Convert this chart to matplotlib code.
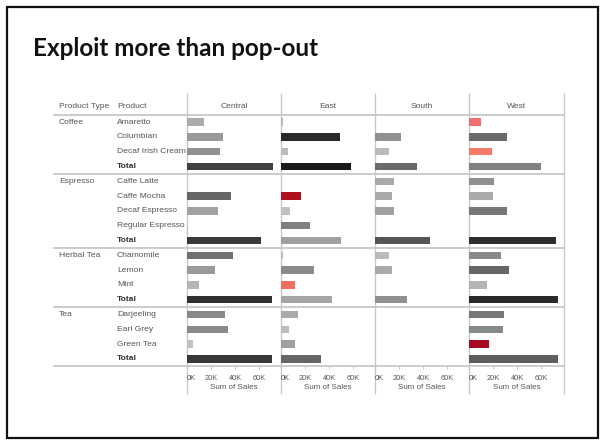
import numpy as np
import matplotlib
matplotlib.use("Agg")
import matplotlib.pyplot as plt
from matplotlib.patches import Rectangle

nan = np.nan

# ---- data (sales in thousands) ----
groups = ["Coffee", "Espresso", "Herbal Tea", "Tea"]
group_sizes = [4, 5, 4, 4]
products = ["Amaretto", "Columbian", "Decaf Irish Cream", "Total",
            "Caffe Latte", "Caffe Mocha", "Decaf Espresso", "Regular Espresso", "Total",
            "Chamomile", "Lemon", "Mint", "Total",
            "Darjeeling", "Earl Grey", "Green Tea", "Total"]
regions = ["Central", "East", "South", "West"]

central = [14.4, 29.7, 27.5, 72.0, nan, 36.7, 25.6, nan, 62.0,
           38.0, 23.0, 9.7, 70.8, 31.7, 34.0, 5.3, 71.0]
east = [2.0, 49.0, 6.0, 58.6, nan, 17.0, 7.8, 24.4, 49.7,
        1.4, 27.5, 12.0, 42.5, 14.4, 6.4, 11.4, 33.0]
south = [nan, 22.0, 12.0, 34.7, 16.0, 14.4, 16.0, nan, 46.0,
         11.7, 14.4, nan, 26.4, nan, nan, nan, nan]
west = [9.7, 31.4, 18.9, 60.0, 21.0, 19.7, 31.4, nan, 72.5,
        26.7, 33.0, 14.7, 74.4, 29.4, 28.3, 16.7, 74.4]

# bar colours (profit shading: greys, reds for losses)
central_col = ["#ababab", "#999999", "#919191", "#404040", "#ffffff", "#666666", "#a3a3a3", "#ffffff", "#3a3a3a",
               "#707070", "#9a9a9a", "#b5b5b5", "#303030", "#8a8a8a", "#8a8a8a", "#c0c0c0", "#383838"]
east_col = ["#bbbbbb", "#2a2a2a", "#bbbbbb", "#1a1a1a", "#ffffff", "#b0101e", "#c0c0c0", "#808080", "#a0a0a0",
            "#bbbbbb", "#8a8a8a", "#f07060", "#a5a5a5", "#aaaaaa", "#bbbbbb", "#a0a0a0", "#666666"]
south_col = ["#ffffff", "#909090", "#bbbbbb", "#6a6a6a", "#aaaaaa", "#aaaaaa", "#a0a0a0", "#ffffff", "#555555",
             "#bbbbbb", "#aaaaaa", "#ffffff", "#909090", "#ffffff", "#ffffff", "#ffffff", "#ffffff"]
west_col = ["#f07070", "#6a6a6a", "#f57a6a", "#808080", "#909090", "#aaaaaa", "#777777", "#ffffff", "#2e2e2e",
            "#8a8a8a", "#666666", "#b5b5b5", "#2a2a2a", "#777777", "#858a8a", "#a80a24", "#5e5e5e"]

values = [central, east, south, west]
colours = [central_col, east_col, south_col, west_col]
ticks = [0, 20, 40, 60]
tick_labels = ["0K", "20K", "40K", "60K"]

# ---- layout (pixels) ----
W, H = 605, 445
body_top, pitch = 114.6, 14.8
n_rows = len(products)
body_bot = body_top + pitch * n_rows
panel_x = [187, 281, 375, 469, 564]
table_left = 54
grid_c = "#c8c8c8"
txt_c = "#555555"
font = ["Liberation Sans", "DejaVu Sans"]

fig = plt.figure(figsize=(W / 100, H / 100), dpi=100)
fig.patch.set_facecolor("white")

# overlay in pixel coordinates for frame, grid lines and row headers
bg = fig.add_axes([0, 0, 1, 1], zorder=0)
bg.set_xlim(0, W)
bg.set_ylim(H, 0)
bg.axis("off")
bg.add_patch(Rectangle((7, 7), 591, 431, fill=False, ec="#111111", lw=1.6))
bg.text(33, 49, "Exploit more than pop-out", fontsize=17.5, fontweight="bold",
        family=["Lato", "DejaVu Sans"], va="center", ha="left", color="#111111")

for x in panel_x:
    bg.plot([x, x], [94, 393], color=grid_c, lw=1.0)
for k in [0, 4, 9, 13, 17]:
    y = body_top + pitch * k
    bg.plot([table_left, panel_x[-1]], [y, y], color=grid_c, lw=1.3)

bg.text(59, 106, "Product Type", fontsize=6.1, family=font, color=txt_c, va="center")
bg.text(117, 106, "Product", fontsize=6.1, family=font, color=txt_c, va="center")
for i, r in enumerate(regions):
    bg.text((panel_x[i] + panel_x[i + 1]) / 2, 106, r, fontsize=6.1, family=font,
            color=txt_c, va="center", ha="center")

start = 0
for g, n in zip(groups, group_sizes):
    bg.text(59, body_top + pitch * (start + 0.5), g, fontsize=6.1, family=font,
            color=txt_c, va="center")
    start += n
for i, p in enumerate(products):
    bold = p == "Total"
    bg.text(117, body_top + pitch * (i + 0.5), p, fontsize=6.1, family=font,
            color="#333333" if bold else txt_c, fontweight="bold" if bold else "normal",
            va="center")

# one bar panel per region
for i in range(len(regions)):
    left, right = panel_x[i], panel_x[i + 1]
    ax = fig.add_axes([left / W, 1 - body_bot / H, (right - left) / W, (body_bot - body_top) / H],
                      zorder=1)
    ax.patch.set_alpha(0)
    vals = np.array(values[i], dtype=float)
    ypos = np.arange(n_rows)
    ax.barh(ypos, np.nan_to_num(vals), height=0.5, color=colours[i], lw=0)
    ax.set_xlim(0, (right - left) / 1.2)
    ax.set_ylim(n_rows - 0.5, -0.5)
    for s in ax.spines.values():
        s.set_visible(False)
    ax.set_yticks([])
    ax.set_xticks(ticks)
    ax.set_xticklabels(tick_labels, fontsize=5.3, family=font, color=txt_c)
    ax.get_xticklabels()[0].set_horizontalalignment("left")
    ax.tick_params(axis="x", length=2, width=0.6, color="#bbbbbb", pad=4)
    ax.set_xlabel("Sum of Sales", fontsize=5.8, family=font, color=txt_c, labelpad=2)

fig.savefig("out.png", dpi=100)
